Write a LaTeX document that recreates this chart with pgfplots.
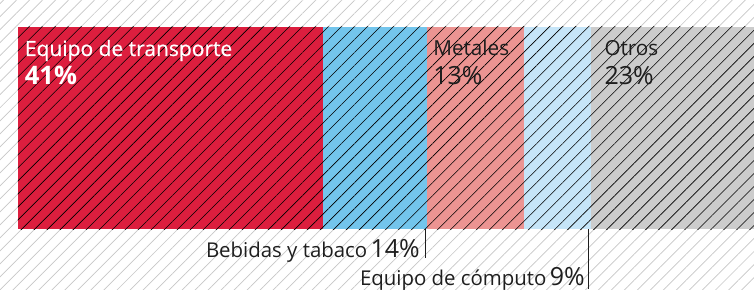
\documentclass[border=0pt]{standalone}
\usepackage{pgfplots}
\pgfplotsset{compat=1.18}
\usepackage{fontspec}
\setmainfont{Open Sans}
\newfontface\medfont{Open Sans}[FakeBold=0.7]
\usetikzlibrary{patterns.meta}
\definecolor{cRed}{RGB}{220,30,62}
\definecolor{cBlue}{RGB}{115,197,236}
\definecolor{cSalmon}{RGB}{236,148,146}
\definecolor{cLBlue}{RGB}{198,229,248}
\definecolor{cGray}{RGB}{204,204,204}
\definecolor{cText}{RGB}{30,30,30}
\tikzset{hatch/.style={postaction={pattern color=black,fill opacity=0.13,pattern={Lines[angle=45,distance=9.2pt,line width=0.6pt]}}}}
\begin{document}
\begin{tikzpicture}[x=1pt,y=1pt]
\fill[white] (0,0) rectangle (754,289);
\fill[pattern={Lines[angle=45,distance=9.2pt,line width=0.7pt]},pattern color=black!22] (0,0) rectangle (754,289);
\begin{axis}[at={(0,0)},anchor=south west,width=754pt,height=289pt,scale only axis,
  xmin=-2.419,xmax=98.92,ymin=0,ymax=289,hide axis,xbar stacked,bar width=202pt]
\addplot[fill=cRed,draw=none,hatch] coordinates {(41,161)};
\addplot[fill=cBlue,draw=none,hatch] coordinates {(14,161)};
\addplot[fill=cSalmon,draw=none,hatch] coordinates {(13,161)};
\addplot[fill=cLBlue,draw=none,hatch] coordinates {(9,161)};
\addplot[fill=cGray,draw=none,hatch] coordinates {(23,161)};
\coordinate (A1) at (axis cs:0.9,233);
\coordinate (A2) at (axis cs:0.9,204);
\coordinate (B1) at (axis cs:55.8,233);
\coordinate (B2) at (axis cs:55.8,204);
\coordinate (C1) at (axis cs:78.8,233);
\coordinate (C2) at (axis cs:78.8,204);
\coordinate (D) at (axis cs:54.03,32);
\coordinate (E) at (axis cs:76.2,4);
\draw[cText,line width=0.8pt] (axis cs:54.7,67) -- (axis cs:54.7,31);
\draw[cText,line width=0.8pt] (axis cs:76.6,67) -- (axis cs:76.6,0);
\end{axis}
\node[anchor=base west,text=white,font=\fontsize{21}{21}\medfont,inner sep=0] at (A1) {Equipo de transporte};
\node[anchor=base west,text=white,font=\fontsize{25.5}{25.5}\selectfont\bfseries,inner sep=0] at (A2) {41\%};
\node[anchor=base west,text=cText,font=\fontsize{20.7}{20.7}\selectfont,inner sep=0] at (B1) {Metales};
\node[anchor=base west,text=cText,font=\fontsize{25}{25}\selectfont,inner sep=0] at (B2) {13\%};
\node[anchor=base west,text=cText,font=\fontsize{20.7}{20.7}\selectfont,inner sep=0] at (C1) {Otros};
\node[anchor=base west,text=cText,font=\fontsize{25}{25}\selectfont,inner sep=0] at (C2) {23\%};
\node[anchor=base east,text=cText,inner sep=0] at (D) {\fontsize{20.4}{20.4}\selectfont Bebidas y tabaco\,\fontsize{25}{25}\selectfont 14\%};
\node[anchor=base east,text=cText,inner sep=0] at (E) {\fontsize{20.4}{20.4}\selectfont Equipo de cómputo\,\fontsize{25}{25}\selectfont 9\%};
\end{tikzpicture}
\end{document}
